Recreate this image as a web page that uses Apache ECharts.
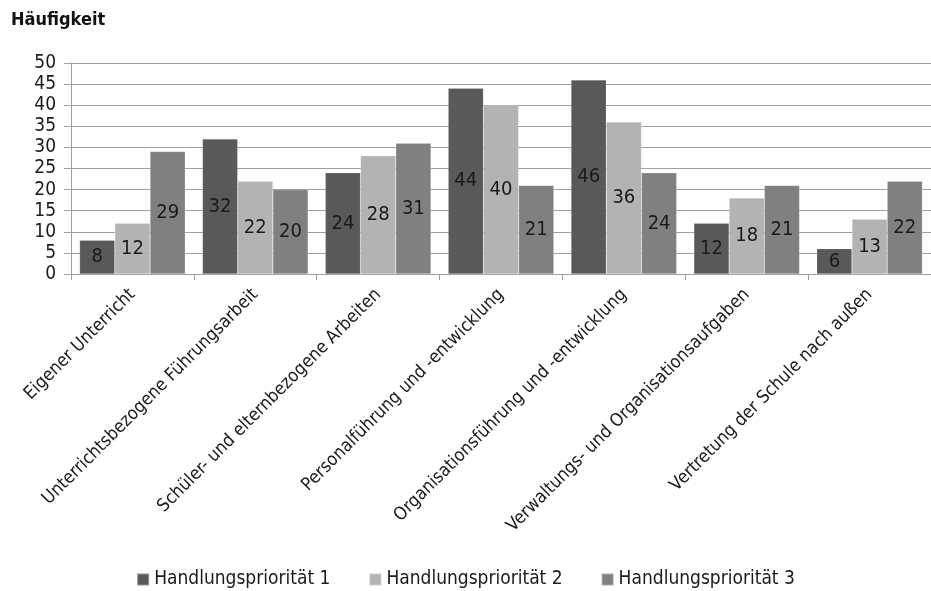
<!DOCTYPE html>
<html>
<head>
<meta charset="utf-8">
<script src="https://cdn.jsdelivr.net/npm/echarts@6/dist/echarts.min.js"></script>
<style>
  html, body { margin: 0; padding: 0; background: #fff; }
  #chart { width: 931px; height: 591px; }
</style>
</head>
<body>
<div id="chart"></div>
<script>
// Task areas and how often each was named at each action priority
const categories = [
  'Eigener Unterricht',
  'Unterrichtsbezogene Führungsarbeit',
  'Schüler- und elternbezogene Arbeiten',
  'Personalführung und -entwicklung',
  'Organisationsführung und -entwicklung',
  'Verwaltungs- und Organisationsaufgaben',
  'Vertretung der Schule nach außen'
];
const seriesNames = ['Handlungspriorität 1', 'Handlungspriorität 2', 'Handlungspriorität 3'];
const prio1 = [8, 32, 24, 44, 46, 12, 6];
const prio2 = [12, 22, 28, 40, 36, 18, 13];
const prio3 = [29, 20, 31, 21, 24, 21, 22];
const yTicks = { min: 0, max: 50, step: 5 };

const FONT = "'Liberation Sans Narrow', 'DejaVu Sans Condensed', 'Liberation Sans', sans-serif";
const colors = ['#595959', '#b3b3b3', '#808080'];

const chart = echarts.init(document.getElementById('chart'), null, { renderer: 'canvas' });

function barSeries(name, data, color) {
  return {
    name: name,
    type: 'bar',
    data: data,
    barGap: '0%',
    barCategoryGap: '14%',
    itemStyle: { color: color, borderColor: 'rgba(255,255,255,0.35)', borderWidth: 0.5 },
    label: {
      show: true,
      position: 'inside',
      color: '#1a1a1a',
      fontFamily: FONT,
      fontSize: 20
    }
  };
}

chart.setOption({
  animation: false,
  color: colors,
  title: {
    text: 'Häufigkeit',
    left: 6,
    top: 6,
    textStyle: { fontFamily: FONT, fontWeight: 'bold', fontSize: 18, color: '#111' }
  },
  legend: {
    bottom: -3,
    left: 'center',
    itemWidth: 12,
    itemHeight: 12,
    itemGap: 38,
    icon: 'rect',
    textStyle: { fontFamily: FONT, fontSize: 19, color: '#1a1a1a' },
    data: seriesNames
  },
  grid: { left: 71, top: 63, width: 864, bottom: 317, containLabel: false },
  xAxis: {
    type: 'category',
    data: categories,
    boundaryGap: true,
    axisLine: { show: true, lineStyle: { color: '#a0a0a0', width: 1 } },
    axisTick: { show: true, length: 6, alignWithLabel: false, lineStyle: { color: '#a0a0a0' } },
    axisLabel: {
      rotate: 45,
      interval: 0,
      margin: 18,
      fontFamily: FONT,
      fontSize: 18,
      color: '#1a1a1a'
    }
  },
  yAxis: {
    type: 'value',
    min: yTicks.min,
    max: yTicks.max,
    interval: yTicks.step,
    axisLine: { show: true, lineStyle: { color: '#a0a0a0', width: 1 } },
    axisTick: { show: true, length: 7, lineStyle: { color: '#a0a0a0' } },
    splitLine: { show: true, lineStyle: { color: '#a0a0a0', width: 1 } },
    axisLabel: { margin: 15, fontFamily: FONT, fontSize: 19, color: '#1a1a1a' }
  },
  series: [
    barSeries(seriesNames[0], prio1, colors[0]),
    barSeries(seriesNames[1], prio2, colors[1]),
    barSeries(seriesNames[2], prio3, colors[2])
  ]
});
</script>
</body>
</html>
